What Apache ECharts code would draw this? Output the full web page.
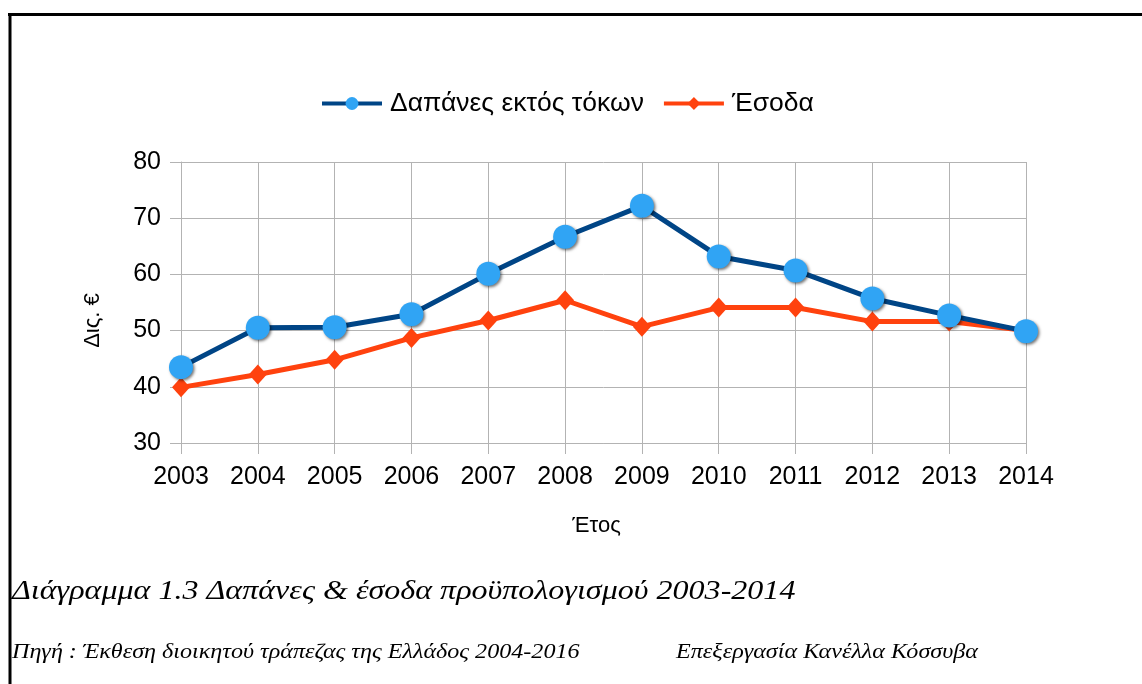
<!DOCTYPE html>
<html>
<head>
<meta charset="utf-8">
<script src="https://cdn.jsdelivr.net/npm/echarts@6/dist/echarts.min.js"></script>
<style>
html,body{margin:0;padding:0;background:#fff;}
#chart{width:1142px;height:684px;}
</style>
</head>
<body>
<div id="chart"></div>
<script>
const years = ['2003','2004','2005','2006','2007','2008','2009','2010','2011','2012','2013','2014'];
const spending = [43.5, 50.5, 50.6, 52.9, 60.1, 66.7, 72.2, 63.2, 60.7, 55.7, 52.7, 49.9];
const revenue  = [39.9, 42.2, 44.8, 48.7, 51.8, 55.4, 50.7, 54.1, 54.1, 51.6, 51.6, 50.0];
const seriesNames = ['Δαπάνες εκτός τόκων', 'Έσοδα'];
const yTicks = { min: 30, max: 80, interval: 10 };
const xAxisName = 'Έτος';
const yAxisName = 'Δις. €';
const captionTitle = 'Διάγραμμα 1.3 Δαπάνες & έσοδα προϋπολογισμού 2003-2014';
const captionSource = 'Πηγή : Έκθεση διοικητού τράπεζας της Ελλάδος 2004-2016';
const captionAuthor = 'Επεξεργασία Κανέλλα Κόσσυβα';

const chart = echarts.init(document.getElementById('chart'), null, {renderer:'canvas'});
const sans = 'Liberation Sans, Arial, sans-serif';
const serif = 'Liberation Serif, Times New Roman, serif';
const gridColor = '#b3b3b3';

chart.setOption({
  backgroundColor: '#ffffff',
  animation: false,
  legend: {
    data: seriesNames,
    top: 85,
    left: 315,
    itemWidth: 60,
    itemHeight: 16,
    itemGap: 18,
    lineStyle: { width: 4 },
    textStyle: { fontFamily: sans, fontSize: 26.5, color: '#000', padding: [0, 0, 0, 3] }
  },
  grid: { left: 181, right: 116, top: 162, bottom: 241, containLabel: false },
  xAxis: {
    type: 'category',
    data: years,
    boundaryGap: false,
    name: xAxisName,
    nameLocation: 'middle',
    nameGap: 72,
    nameTextStyle: { fontFamily: sans, fontSize: 22, color: '#000', padding: [0, 14, 0, 0] },
    axisLine: { show: true, lineStyle: { color: gridColor, width: 1 } },
    axisTick: { show: true, length: 11, lineStyle: { color: gridColor } },
    axisLabel: { fontFamily: sans, fontSize: 25, color: '#000', margin: 22 },
    splitLine: { show: true, lineStyle: { color: gridColor, width: 1 } }
  },
  yAxis: {
    type: 'value',
    min: yTicks.min, max: yTicks.max, interval: yTicks.interval,
    name: yAxisName,
    nameLocation: 'middle',
    nameGap: 77,
    nameTextStyle: { fontFamily: sans, fontSize: 22, color: '#000', padding: [0, 36, 0, 0] },
    axisLine: { show: true, lineStyle: { color: gridColor, width: 1 } },
    axisTick: { show: true, length: 11, lineStyle: { color: gridColor } },
    axisLabel: { fontFamily: sans, fontSize: 25, color: '#000', margin: 20 },
    splitLine: { show: true, lineStyle: { color: gridColor, width: 1 } }
  },
  series: [
    {
      name: seriesNames[0],
      type: 'line',
      data: spending,
      z: 4,
      symbol: 'circle',
      symbolSize: 24,
      lineStyle: { color: '#004586', width: 5 },
      itemStyle: { color: '#30a4f4', shadowColor: 'rgba(0,0,0,0.55)', shadowBlur: 3, shadowOffsetX: 1.5, shadowOffsetY: 1.5 }
    },
    {
      name: seriesNames[1],
      type: 'line',
      data: revenue,
      z: 3,
      symbol: 'diamond',
      symbolSize: [18, 20],
      lineStyle: { color: '#ff420e', width: 5 },
      itemStyle: { color: '#ff420e' }
    }
  ],
  graphic: [
    { type: 'line', shape: { x1: 8, y1: 14.5, x2: 1142, y2: 14.5 }, style: { stroke: '#000', lineWidth: 3 } },
    { type: 'line', shape: { x1: 10, y1: 13, x2: 10, y2: 684 }, style: { stroke: '#000', lineWidth: 3 } },
    { type: 'text', x: 12, y: 578, scaleX: 1.145, style: { text: captionTitle, font: 'italic 28px ' + serif, fill: '#000' } },
    { type: 'text', x: 12, y: 641, scaleX: 1.096, style: { text: captionSource, font: 'italic 22px ' + serif, fill: '#000' } },
    { type: 'text', x: 676, y: 641, scaleX: 1.096, style: { text: captionAuthor, font: 'italic 22px ' + serif, fill: '#000' } }
  ]
});
</script>
</body>
</html>
